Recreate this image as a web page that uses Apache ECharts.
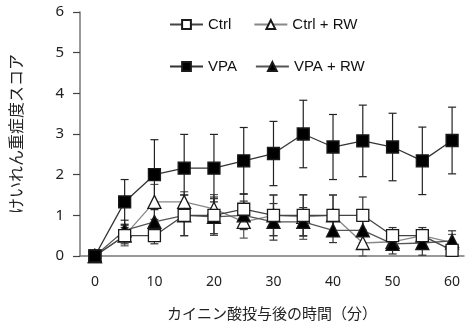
<!DOCTYPE html>
<html>
<head>
<meta charset="utf-8">
<script src="https://cdn.jsdelivr.net/npm/echarts@6/dist/echarts.min.js"></script>
<style>
  html, body { margin: 0; padding: 0; background: #fff; }
  #chart { width: 467px; height: 329px; }
</style>
</head>
<body>
<div id="chart"></div>
<script>
// time points (min after kainic acid)
const times = [0, 5, 10, 15, 20, 25, 30, 35, 40, 45, 50, 55, 60];

// mean seizure scores
const ctrl    = [0, 0.5, 0.5, 1.0, 1.0, 1.15, 1.0, 1.0, 1.0, 1.0, 0.5, 0.5, 0.14];
const ctrlRW  = [0, 0.5, 1.33, 1.33, 1.16, 0.84, 1.0, 0.96, 1.0, 0.32, 0.35, 0.5, 0.33];
const vpa     = [0, 1.33, 2.0, 2.16, 2.16, 2.34, 2.52, 3.0, 2.68, 2.83, 2.68, 2.34, 2.84];
const vpaRW   = [0, 0.63, 0.84, 1.0, 0.96, 1.0, 0.84, 0.84, 0.63, 0.63, 0.3, 0.32, 0.37];

// error bar half widths (SEM)
const ctrlErr   = [0, 0.2, 0.2, 0.5, 0.45, 0.38, 0.5, 0.5, 0.5, 0.45, 0.2, 0.2, 0.1];
const ctrlRWErr = [0, 0.25, 0.43, 0.25, 0.35, 0.4, 0.5, 0.55, 0.5, 0.32, 0.15, 0.15, 0.2];
const vpaErr    = [0, 0.55, 0.86, 0.83, 0.83, 0.82, 0.79, 0.83, 0.8, 0.88, 0.83, 0.83, 0.82];
const vpaRWErr  = [0, 0.25, 0.35, 0.5, 0.45, 0.35, 0.45, 0.35, 0.3, 0.3, 0.25, 0.3, 0.25];

const yTicks = [0, 1, 2, 3, 4, 5, 6];
const xTicks = [0, 10, 20, 30, 40, 50, 60];

const chart = echarts.init(document.getElementById('chart'));

function pairs(vals) { return times.map((t, i) => [t, vals[i]]); }

function errSeries(id, vals, errs, color) {
  return {
    id: id,
    type: 'custom',
    z: 1,
    silent: true,
    clip: false,
    data: times.map((t, i) => [t, vals[i] - errs[i], vals[i] + errs[i]]).filter(d => d[2] > d[1]),
    renderItem(params, api) {
      const lo = api.coord([api.value(0), api.value(1)]);
      const hi = api.coord([api.value(0), api.value(2)]);
      const w = 4;
      const style = { stroke: color, lineWidth: 1.2, fill: null };
      return {
        type: 'group',
        children: [
          { type: 'line', shape: { x1: lo[0], y1: lo[1], x2: hi[0], y2: hi[1] }, style },
          { type: 'line', shape: { x1: hi[0] - w, y1: hi[1], x2: hi[0] + w, y2: hi[1] }, style },
          { type: 'line', shape: { x1: lo[0] - w, y1: lo[1], x2: lo[0] + w, y2: lo[1] }, style }
        ]
      };
    }
  };
}

function lineSeries(name, vals, symbol, fill, lineColor, z) {
  return {
    name: name,
    type: 'line',
    z: z,
    data: pairs(vals),
    symbol: symbol,
    symbolSize: symbol === 'triangle' ? 13 : 12,
    clip: false,
    color: fill,
    lineStyle: { color: lineColor, width: 1.3 },
    itemStyle: { color: fill, borderColor: '#1a1a1a', borderWidth: 1.3 }
  };
}

const legendText = { fontFamily: 'Liberation Sans', fontSize: 15, color: '#111' };

chart.setOption({
  animation: false,
  backgroundColor: '#fff',
  grid: { left: 79, right: 0, top: 12, bottom: 73 },
  legend: [
    { data: ['Ctrl', 'Ctrl + RW'], left: 164, top: 12, itemWidth: 33, itemHeight: 11, itemGap: 22, textStyle: legendText },
    { data: ['VPA', 'VPA + RW'], left: 164, top: 54, itemWidth: 33, itemHeight: 11, itemGap: 18, textStyle: legendText }
  ],
  xAxis: {
    type: 'value',
    min: -2.5,
    max: 62,
    interval: 2.5,
    name: 'カイニン酸投与後の時間（分）',
    nameLocation: 'middle',
    nameGap: 50,
    nameTextStyle: { fontFamily: 'Noto Sans CJK JP', fontSize: 15, color: '#222' },
    axisLine: { onZero: false, lineStyle: { color: '#777', width: 1.5 } },
    axisTick: { show: false },
    splitLine: { show: false },
    axisLabel: {
      margin: 19,
      fontFamily: 'Noto Sans',
      fontSize: 14,
      color: '#222',
      formatter: v => (xTicks.indexOf(v) >= 0 ? String(v) : '')
    }
  },
  yAxis: {
    type: 'value',
    min: 0,
    max: 6,
    interval: 1,
    name: 'けいれん重症度スコア',
    nameLocation: 'middle',
    nameGap: 56,
    nameTextStyle: { fontFamily: 'Noto Sans CJK JP', fontSize: 16, color: '#222' },
    axisLine: { show: true, onZero: false, lineStyle: { color: '#777', width: 1.5 } },
    axisTick: { show: true, inside: false, length: 7, lineStyle: { color: '#444', width: 1.2 } },
    splitLine: { show: false },
    axisLabel: {
      margin: 16,
      fontFamily: 'Noto Sans',
      fontSize: 15,
      color: '#222',
      formatter: v => (yTicks.indexOf(v) >= 0 ? String(v) : '')
    }
  },
  series: [
    errSeries('errCtrlRW', ctrlRW, ctrlRWErr, '#555'),
    errSeries('errVpaRW', vpaRW, vpaRWErr, '#333'),
    errSeries('errCtrl', ctrl, ctrlErr, '#333'),
    errSeries('errVpa', vpa, vpaErr, '#222'),
    lineSeries('Ctrl + RW', ctrlRW, 'triangle', '#fff', '#888', 3),
    lineSeries('VPA + RW', vpaRW, 'triangle', '#000', '#555', 4),
    lineSeries('Ctrl', ctrl, 'rect', '#fff', '#444', 5),
    lineSeries('VPA', vpa, 'rect', '#000', '#333', 6)
  ]
});
</script>
</body>
</html>
